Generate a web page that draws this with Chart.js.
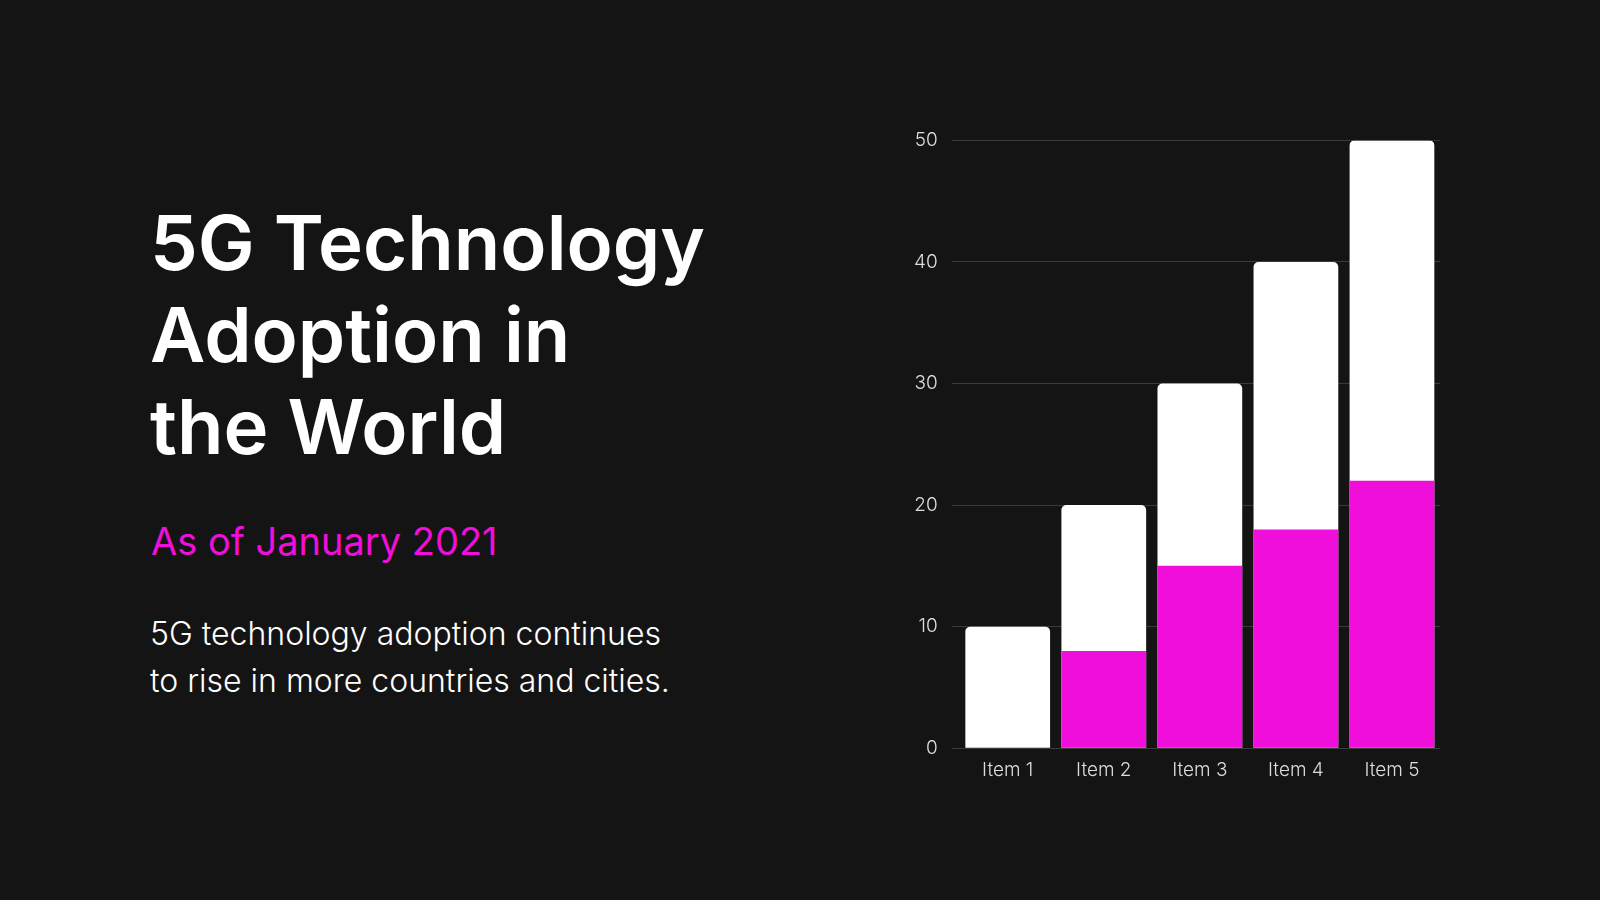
<!DOCTYPE html>
<html><head><meta charset="utf-8">
<script src="https://cdn.jsdelivr.net/npm/chart.js@4/dist/chart.umd.min.js"></script>
<style>
body{margin:0;width:1600px;height:900px;background:#141414;overflow:hidden;font-family:Inter,"Open Sans",sans-serif;color:#fff;position:relative}
#t{position:absolute;left:150px;top:196px;font-size:76px;font-weight:600;line-height:92px;letter-spacing:0px}
#s{position:absolute;left:151px;top:518px;font-size:38px;color:#f00fda;font-weight:400}
#b{position:absolute;left:150px;top:610px;font-size:32px;font-weight:300;line-height:47px}
#c{position:absolute;left:900px;top:115px;width:560px;height:670px}
</style></head><body>
<div id="t">5G Technology<br>Adoption in<br>the World</div>
<div id="s">As of January 2021</div>
<div id="b">5G technology adoption continues<br>to rise in more countries and cities.</div>
<div id="c"><canvas id="cv"></canvas></div>
<script>
const categories=["Item 1","Item 2","Item 3","Item 4","Item 5"];
const totalValues=[10,20,30,40,50];
const magentaValues=[0,8,15,18,22];
const yTicks=[0,10,20,30,40,50];
new Chart(document.getElementById('cv'),{type:'bar',
data:{labels:categories,datasets:[
{data:magentaValues,backgroundColor:'#f00fda',borderRadius:0,order:1,categoryPercentage:0.9,barPercentage:0.98},
{data:totalValues,backgroundColor:'#ffffff',borderRadius:{topLeft:5,topRight:5},borderSkipped:'bottom',order:2,categoryPercentage:0.9,barPercentage:0.98}]},
options:{responsive:true,maintainAspectRatio:false,animation:false,
plugins:{legend:{display:false},tooltip:{enabled:false}},
layout:{padding:{top:10,right:20}},
scales:{x:{stacked:false,grid:{display:false},border:{display:false},ticks:{color:'#ddd',font:{family:'Inter',size:19,weight:300}}},
y:{min:0,max:50,afterBuildTicks:a=>{a.ticks=yTicks.map(v=>({value:v}))},grid:{color:'#3a3a3a',lineWidth:1},border:{display:false},ticks:{color:'#ddd',padding:14,font:{family:'Inter',size:19,weight:300}}}}},
plugins:[{id:'ov',beforeInit(c){}}]
});
</script>
<script>
// overlap bars: use grouped=false
const ch=Chart.getChart('cv');ch.data.datasets.forEach(d=>d.grouped=false);ch.update();
</script>
</body></html>
